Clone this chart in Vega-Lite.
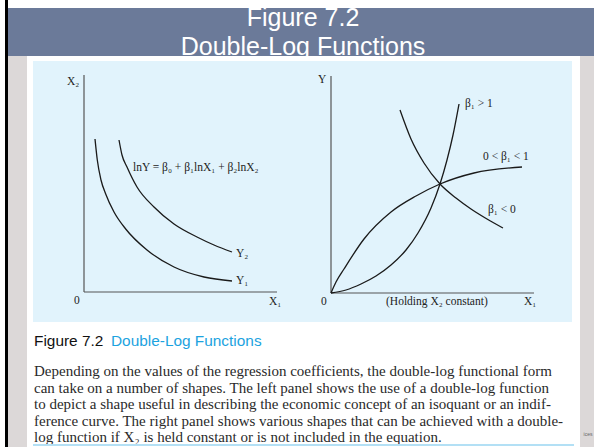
{
  "$schema": "https://vega.github.io/schema/vega-lite/v6.json",
  "background": "white",
  "padding": {"left": 5, "top": 0, "right": 0, "bottom": 0},
  "config": {"view": {"stroke": null}, "concat": {"spacing": 0}, "text": {"font": "Liberation Serif"}},
  "datasets": {
    "leftAxes": [
      {"x": 0, "y": 0, "x2": 0, "y2": 217},
      {"x": 0, "y": 0, "x2": 193, "y2": 0}
    ],
    "leftCurves": [
      {"curve": "Y1", "x": 11, "y": 153}, {"curve": "Y1", "x": 13.3, "y": 132}, {"curve": "Y1", "x": 17, "y": 112},
      {"curve": "Y1", "x": 21.7, "y": 98}, {"curve": "Y1", "x": 30, "y": 80}, {"curve": "Y1", "x": 41.7, "y": 63},
      {"curve": "Y1", "x": 63, "y": 42}, {"curve": "Y1", "x": 90, "y": 25}, {"curve": "Y1", "x": 120, "y": 15},
      {"curve": "Y1", "x": 148, "y": 11},
      {"curve": "Y2", "x": 35, "y": 152}, {"curve": "Y2", "x": 38, "y": 137}, {"curve": "Y2", "x": 43, "y": 125},
      {"curve": "Y2", "x": 53, "y": 105}, {"curve": "Y2", "x": 70, "y": 85}, {"curve": "Y2", "x": 90, "y": 68},
      {"curve": "Y2", "x": 113, "y": 55}, {"curve": "Y2", "x": 130, "y": 47}, {"curve": "Y2", "x": 148, "y": 40}
    ],
    "leftLabels": [
      {"t": "X₂", "x": -17, "y": 210},
      {"t": "0", "x": -10, "y": -9},
      {"t": "X₁", "x": 185, "y": -10},
      {"t": "lnY = β₀ + β₁lnX₁ + β₂lnX₂", "x": 49, "y": 124},
      {"t": "Y₂", "x": 152, "y": 38},
      {"t": "Y₁", "x": 152, "y": 11}
    ],
    "rightAxes": [
      {"x": 0, "y": 0, "x2": 0, "y2": 217},
      {"x": 0, "y": 0, "x2": 203, "y2": 0}
    ],
    "rightCurves": [
      {"curve": "A", "x": 0, "y": 0}, {"curve": "A", "x": 5, "y": 11}, {"curve": "A", "x": 13, "y": 24},
      {"curve": "A", "x": 33, "y": 54}, {"curve": "A", "x": 60, "y": 81}, {"curve": "A", "x": 85, "y": 97},
      {"curve": "A", "x": 109, "y": 109}, {"curve": "A", "x": 143, "y": 120}, {"curve": "A", "x": 191, "y": 126},
      {"curve": "B", "x": 0, "y": 0}, {"curve": "B", "x": 15, "y": 3}, {"curve": "B", "x": 30, "y": 9},
      {"curve": "B", "x": 45, "y": 17}, {"curve": "B", "x": 60, "y": 28}, {"curve": "B", "x": 75, "y": 43},
      {"curve": "B", "x": 87, "y": 60}, {"curve": "B", "x": 100, "y": 85}, {"curve": "B", "x": 109, "y": 109},
      {"curve": "B", "x": 116, "y": 133}, {"curve": "B", "x": 122, "y": 158}, {"curve": "B", "x": 128, "y": 189},
      {"curve": "C", "x": 69, "y": 183}, {"curve": "C", "x": 80, "y": 154}, {"curve": "C", "x": 93, "y": 130},
      {"curve": "C", "x": 109, "y": 109}, {"curve": "C", "x": 125, "y": 95}, {"curve": "C", "x": 140, "y": 84},
      {"curve": "C", "x": 156, "y": 74}, {"curve": "C", "x": 172, "y": 65}
    ],
    "rightLabels": [
      {"t": "Y", "x": -13, "y": 213},
      {"t": "0", "x": -10, "y": -9},
      {"t": "(Holding X₂ constant)", "x": 55, "y": -9},
      {"t": "X₁", "x": 193, "y": -9},
      {"t": "β₁ > 1", "x": 134, "y": 189},
      {"t": "0 < β₁ < 1", "x": 152, "y": 136},
      {"t": "β₁ < 0", "x": 157, "y": 83}
    ],
    "caption": [
      {"line": 0, "t": "Depending on the values of the regression coefficients, the double-log functional form"},
      {"line": 1, "t": "can take on a number of shapes. The left panel shows the use of a double-log function"},
      {"line": 2, "t": "to depict a shape useful in describing the economic concept of an isoquant or an indif-"},
      {"line": 3, "t": "ference curve. The right panel shows various shapes that can be achieved with a double-"},
      {"line": 4, "t": "log function if X₂ is held constant or is not included in the equation."}
    ]
  },
  "spacing": 0,
  "hconcat": [
    {"width": 3, "height": 447, "view": {"fill": "#000000"}, "data": {"values": []}, "mark": "text"},
    {
      "spacing": 0,
      "vconcat": [
        {"width": 586, "height": 8, "view": {"fill": "#ffffff"}, "data": {"values": []}, "mark": "text"},
        {
          "width": 586, "height": 48, "view": {"fill": "#6b7a99"},
          "data": {"values": [{"title": "Figure 7.2\nDouble-Log Functions"}]},
          "mark": {"type": "text", "font": "Liberation Sans", "fontSize": 25, "color": "white", "lineBreak": "\n", "lineHeight": 29, "baseline": "alphabetic", "align": "center", "dx": 2, "dy": -6, "clip": true},
          "encoding": {"text": {"field": "title"}}
        },
        {
          "spacing": 5,
          "hconcat": [
            {
              "width": 19, "height": 391, "view": {"fill": "#dcd8d8"},
              "data": {"values": [{}]},
              "mark": {"type": "rect", "color": "#dcd8d8", "opacity": 1}
            },
            {
              "spacing": 0,
              "vconcat": [
                {"width": 541, "height": 5, "view": {"fill": "#ffffff"}, "data": {"values": []}, "mark": "text"},
                {
                  "spacing": 0,
                  "hconcat": [
                    {
                      "width": 269, "height": 261, "view": {"fill": "#e1f3fc"},
                      "layer": [
                        {
                          "data": {"name": "leftAxes"},
                          "mark": {"type": "rule", "color": "#555555", "strokeWidth": 1.2},
                          "encoding": {
                            "x": {"field": "x", "type": "quantitative", "scale": {"domain": [-51, 218], "nice": false}, "axis": null},
                            "y": {"field": "y", "type": "quantitative", "scale": {"domain": [-30, 231], "nice": false}, "axis": null},
                            "x2": {"field": "x2"},
                            "y2": {"field": "y2"}
                          }
                        },
                        {
                          "data": {"name": "leftCurves"},
                          "mark": {"type": "line", "interpolate": "monotone", "color": "#1a1a1a", "strokeWidth": 1.3},
                          "encoding": {
                            "x": {"field": "x", "type": "quantitative", "scale": {"domain": [-51, 218], "nice": false}, "axis": null},
                            "y": {"field": "y", "type": "quantitative", "scale": {"domain": [-30, 231], "nice": false}, "axis": null},
                            "detail": {"field": "curve"}
                          }
                        },
                        {
                          "data": {"name": "leftLabels"},
                          "mark": {"type": "text", "align": "left", "baseline": "middle", "fontSize": 11.5, "color": "#222222"},
                          "encoding": {
                            "x": {"field": "x", "type": "quantitative", "scale": {"domain": [-51, 218], "nice": false}, "axis": null},
                            "y": {"field": "y", "type": "quantitative", "scale": {"domain": [-30, 231], "nice": false}, "axis": null},
                            "text": {"field": "t"}
                          }
                        }
                      ]
                    },
                    {
                      "width": 270, "height": 261, "view": {"fill": "#e1f3fc"},
                      "layer": [
                        {
                          "data": {"name": "rightAxes"},
                          "mark": {"type": "rule", "color": "#555555", "strokeWidth": 1.2},
                          "encoding": {
                            "x": {"field": "x", "type": "quantitative", "scale": {"domain": [-29, 241], "nice": false}, "axis": null},
                            "y": {"field": "y", "type": "quantitative", "scale": {"domain": [-29, 232], "nice": false}, "axis": null},
                            "x2": {"field": "x2"},
                            "y2": {"field": "y2"}
                          }
                        },
                        {
                          "data": {"name": "rightCurves"},
                          "mark": {"type": "line", "interpolate": "monotone", "color": "#1a1a1a", "strokeWidth": 1.3},
                          "encoding": {
                            "x": {"field": "x", "type": "quantitative", "scale": {"domain": [-29, 241], "nice": false}, "axis": null},
                            "y": {"field": "y", "type": "quantitative", "scale": {"domain": [-29, 232], "nice": false}, "axis": null},
                            "detail": {"field": "curve"}
                          }
                        },
                        {
                          "data": {"name": "rightLabels"},
                          "mark": {"type": "text", "align": "left", "baseline": "middle", "fontSize": 11.5, "color": "#222222"},
                          "encoding": {
                            "x": {"field": "x", "type": "quantitative", "scale": {"domain": [-29, 241], "nice": false}, "axis": null},
                            "y": {"field": "y", "type": "quantitative", "scale": {"domain": [-29, 232], "nice": false}, "axis": null},
                            "text": {"field": "t"}
                          }
                        }
                      ]
                    }
                  ]
                },
                {
                  "width": 541, "height": 125, "view": {"fill": "#ffffff"},
                  "layer": [
                    {
                      "data": {"values": [{"t": "Figure 7.2"}]},
                      "mark": {"type": "text", "font": "Liberation Sans", "fontSize": 15.4, "color": "#111111", "align": "left", "baseline": "middle"},
                      "encoding": {
                        "x": {"datum": 0, "type": "quantitative", "scale": {"domain": [-1, 540], "nice": false}, "axis": null},
                        "y": {"datum": -1.818, "type": "quantitative", "scale": {"domain": [-2.970, 4.606], "reverse": true, "nice": false}, "axis": null},
                        "text": {"field": "t"}
                      }
                    },
                    {
                      "data": {"values": [{"t": "Double-Log Functions"}]},
                      "mark": {"type": "text", "font": "Liberation Sans", "fontSize": 15.4, "color": "#1ca3e0", "align": "left", "baseline": "middle", "dx": 77},
                      "encoding": {
                        "x": {"datum": 0, "type": "quantitative", "scale": {"domain": [-1, 540], "nice": false}, "axis": null},
                        "y": {"datum": -1.818, "type": "quantitative", "scale": {"domain": [-2.970, 4.606], "reverse": true, "nice": false}, "axis": null},
                        "text": {"field": "t"}
                      }
                    },
                    {
                      "data": {"name": "caption"},
                      "mark": {"type": "text", "font": "Liberation Serif", "fontSize": 15, "color": "#2a2a2a", "align": "left", "baseline": "middle"},
                      "encoding": {
                        "x": {"datum": 0, "type": "quantitative", "scale": {"domain": [-1, 540], "nice": false}, "axis": null},
                        "y": {"field": "line", "type": "quantitative", "scale": {"domain": [-2.970, 4.606], "reverse": true, "nice": false}, "axis": null},
                        "text": {"field": "t"}
                      }
                    },
                    {
                      "data": {"values": [{}]},
                      "mark": {"type": "rule", "color": "#b3e0f5", "strokeWidth": 2},
                      "encoding": {
                        "y": {"datum": 4.485, "type": "quantitative", "scale": {"domain": [-2.970, 4.606], "reverse": true, "nice": false}, "axis": null}
                      }
                    }
                  ]
                }
              ]
            },
            {
              "width": 16, "height": 391, "view": {"fill": "#dcd8d8"},
              "layer": [
                {
                  "data": {"values": [{}]},
                  "mark": {"type": "rect", "color": "#dcd8d8", "opacity": 1}
                },
                {
                  "data": {"values": [{"t": "ices"}]},
                  "mark": {"type": "text", "font": "Liberation Sans", "fontSize": 5, "color": "#666666", "dy": 182},
                  "encoding": {"text": {"field": "t"}}
                }
              ]
            }
          ]
        }
      ]
    }
  ]
}
